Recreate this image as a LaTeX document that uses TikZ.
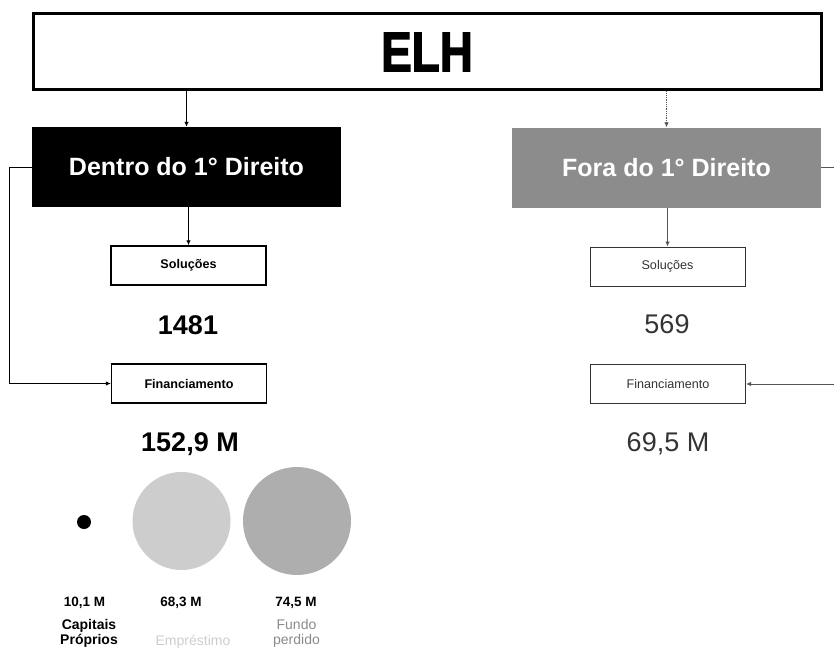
\documentclass[tikz,border=0pt]{standalone}
\usepackage{fontspec}
\setmainfont{Liberation Sans}
\font\elhfnt="Liberation Sans Bold:embolden=2.5" at 56pt
\usetikzlibrary{arrows.meta}
\definecolor{foragray}{HTML}{8C8C8C}
\definecolor{empgray}{HTML}{CDCDCD}
\definecolor{fungray}{HTML}{AEAEAE}
\definecolor{rtext}{HTML}{333333}
\definecolor{rline}{HTML}{555555}
\newcommand{\fsz}[1]{\fontsize{#1}{#1}\selectfont}
\tikzset{
  arr/.style={-{Latex[length=5pt,width=4.5pt]}},
  topbox/.style={draw=black, line width=3pt, minimum width=788pt, minimum height=76pt, inner sep=0pt},
  bigbox/.style={minimum width=309pt, minimum height=80pt, inner sep=0pt, text=white, font=\fsz{25}\bfseries},
  smallbox/.style={draw=black, line width=1.3pt, minimum width=155pt, minimum height=39pt, inner sep=0pt},
  bignum/.style={font=\fsz{27}\bfseries, inner sep=0pt},
  lbl/.style={font=\fsz{13.5}\bfseries, inner sep=0pt},
  circ/.style={circle, inner sep=0pt}
}
\begin{document}
\begin{tikzpicture}[x=1pt,y=-1pt]
\useasboundingbox (0,0) rectangle (834,650);
% top box
\node[topbox] (elh) at (427,52) {\scalebox{0.82}[1]{\elhfnt ELH}};
% level boxes
\node[bigbox, fill=black] (dentro) at (186.5,167) {Dentro do 1° Direito};
\node[bigbox, fill=foragray] (fora) at (666.5,167.5) {Fora do 1° Direito};
% small boxes
\node[smallbox, font=\fsz{12.6}\bfseries] (solL) at (188.5,265.5) {Soluções};
\node[smallbox, font=\fsz{12.6}\bfseries] (finL) at (189,383.5) {Financiamento};
\node[smallbox, draw=rtext, line width=1pt, text=rtext, font=\fsz{12.6}] (solR) at (667.5,266.5) {Soluções};
\node[smallbox, draw=rtext, line width=1pt, text=rtext, font=\fsz{12.6}] (finR) at (668,384) {Financiamento};
% numbers
\node[bignum] (n1481) at (188,325) {1481};
\node[bignum, font=\fsz{27}, text=rtext] (n569) at (667,324) {569};
\node[bignum] (n152) at (190,444) {152,9 M};
\node[bignum, font=\fsz{27}, text=rtext] (n695) at (668,444) {69,5 M};
% circles
\node[circ, fill=black, minimum size=14pt] (cp) at (84,522) {};
\node[circ, fill=empgray, minimum size=98pt] (emp) at (181.5,521) {};
\node[circ, fill=fungray, minimum size=108pt] (fun) at (297,521) {};
% labels under circles
\node[lbl] (v1) at (84.5,603) {10,1 M};
\node[lbl] (v2) at (181,603) {68,3 M};
\node[lbl] (v3) at (296,603) {74,5 M};
\node[lbl, font=\fsz{14}\bfseries, align=center] (l1) at (89,633.5) {Capitais\\[1pt]Próprios};
\node[lbl, font=\fsz{14}, text=empgray] (l2) at (193,642) {Empréstimo};
\node[lbl, font=\fsz{14}, text=fungray!80!black, align=center] (l3) at (296.5,633.5) {Fundo\\[1pt]perdido};
% connectors left
\draw[arr, line width=1.2pt] (dentro.north |- elh.south) -- (dentro.north);
\draw[arr, line width=1.2pt] (solL.north |- dentro.south) -- (solL.north);
\draw[arr, line width=0.9pt] (dentro.west) -- ++(-22,0) |- (finL.west);
% connectors right
\draw[arr, rline, line width=0.8pt, densely dotted] (fora.north |- elh.south) -- (fora.north);
\draw[arr, rline, line width=0.8pt] (solR.north |- fora.south) -- (solR.north);
\coordinate (rc) at (850,167.5);
\draw[arr, rline, line width=0.8pt] (fora.east) -- (rc) |- (finR.east);
\end{tikzpicture}
\end{document}
